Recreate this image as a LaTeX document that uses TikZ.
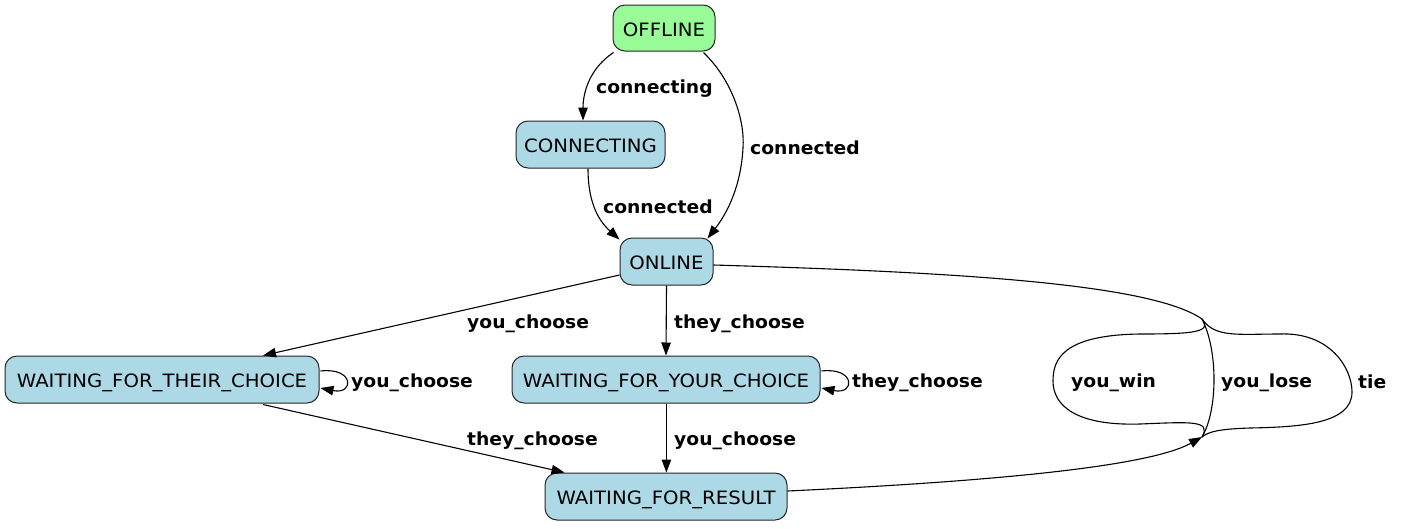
\documentclass[tikz,border=0pt]{standalone}
\usepackage{fontspec}
\usetikzlibrary{arrows.meta,calc}
\newfontfamily\nodefont[FakeStretch=1.07]{DejaVu Sans}
\newfontfamily\labfont[FakeStretch=1.04]{DejaVu Sans Bold}
\definecolor{lblue}{HTML}{ADD8E6}
\definecolor{pgreen}{HTML}{98FB98}
\tikzset{
  state/.style={draw=black!85, line width=1pt, rounded corners=12pt, fill=lblue,
    minimum height=47pt, inner sep=0pt, text height=17pt, text depth=0.8pt,
    font=\nodefont\fontsize{18.4}{21}\selectfont},
  elab/.style={font=\labfont\fontsize{18}{21}\selectfont, inner sep=0pt},
  edge/.style={draw=black, line width=1.1pt, -{Triangle[length=13pt,width=9.5pt]}},
  plain/.style={draw=black, line width=1.1pt}
}
\begin{document}
\begin{tikzpicture}[x=1pt,y=-1pt]
\useasboundingbox (0,0) rectangle (1404,528);
% nodes
\node[state, fill=pgreen, minimum width=102pt, minimum height=46pt] (offline) at (664,28) {OFFLINE};
\node[state, minimum width=149pt] (connecting) at (590.5,144.5) {CONNECTING};
\node[state, minimum width=93pt] (online) at (666.5,261.5) {ONLINE};
\node[state, minimum width=314pt] (wftc) at (162,379.5) {WAITING\_FOR\_THEIR\_CHOICE};
\node[state, minimum width=308pt] (wfyc) at (666,379.5) {WAITING\_FOR\_YOUR\_CHOICE};
\node[state, minimum width=242pt] (wfr) at (666,496.5) {WAITING\_FOR\_RESULT};
\coordinate (j1) at (1202,319);
\coordinate (j2) at (1202,437);
% edges
\draw[edge] ($(offline.south west)+(1,1)$) .. controls (590,68) and (583,92) .. ($(connecting.north)+(-7.5,0)$);
\draw[edge] ($(offline.south east)+(-12,1)$) .. controls (732,80) and (745,120) .. (743,148)
   .. controls (741,185) and (728,212) .. ($(online.north east)+(-6,1)$);
\draw[edge] ($(connecting.south)+(-2.5,0)$) .. controls (588,205) and (600,222) .. ($(online.north west)+(0,2)$);
\draw[edge] ($(online.west)+(0,13.5)$) -- ($(wftc.north)+(101,0)$);
\draw[edge] (online.south) -- (wfyc.north);
\draw[edge] ($(wftc.east)+(1,-8.5)$) .. controls +(34,-4) and +(34,7) .. ($(wftc.east)+(1,8.5)$);
\draw[edge] ($(wfyc.east)+(1,-8.5)$) .. controls +(34,-4) and +(34,7) .. ($(wfyc.east)+(1,8.5)$);
\draw[edge] ($(wfyc.south)+(0.4,0)$) -- ($(wfr.north)+(0.4,0)$);
\draw[edge] ($(wftc.south)+(101,1)$) -- ($(wfr.north west)+(20,0)$);
\draw[plain] ($(online.east)+(0,3.5)$) .. controls (950,272) and (1150,283) .. (j1);
\draw[edge] ($(wfr.east)+(0,-5.5)$) .. controls (1000,481) and (1150,466) .. (j2);
% result curves
\draw[plain] (j1) .. controls (1212,332) and (1195,334) .. (1140,334)
   .. controls (1062,335) and (1053,360) .. (1053,381)
   .. controls (1053,405) and (1075,426) .. (1140,424)
   .. controls (1190,422) and (1212,420) .. (j2);
\draw[plain] (j1) .. controls (1218,350) and (1218,410) .. (j2);
\draw[plain] (j1) .. controls (1215,338) and (1238,334) .. (1280,334)
   .. controls (1330,332) and (1352,368) .. (1352,392)
   .. controls (1352,424) and (1300,427) .. (1250,428)
   .. controls (1218,429) and (1208,432) .. (j2);
% labels
\node[elab, anchor=west] (l1) at (596,89) {connecting};
\node[elab, anchor=west] (l2) at (750,148) {connected};
\node[elab, anchor=west] (l3) at (603,207) {connected};
\node[elab, anchor=west] (l4) at (467,324) {you\_choose};
\node[elab, anchor=west] (l5) at (674,324) {they\_choose};
\node[elab, anchor=west] (l6) at (351,383) {you\_choose};
\node[elab, anchor=west] (l7) at (852,383) {they\_choose};
\node[elab, anchor=west] (l8) at (674,441) {you\_choose};
\node[elab, anchor=west] (l9) at (467,441) {they\_choose};
\node[elab, anchor=west] (l10) at (1071,383) {you\_win};
\node[elab, anchor=west] (l11) at (1221,383) {you\_lose};
\node[elab, anchor=west] (l12) at (1358,382) {tie};
\end{tikzpicture}
\end{document}
